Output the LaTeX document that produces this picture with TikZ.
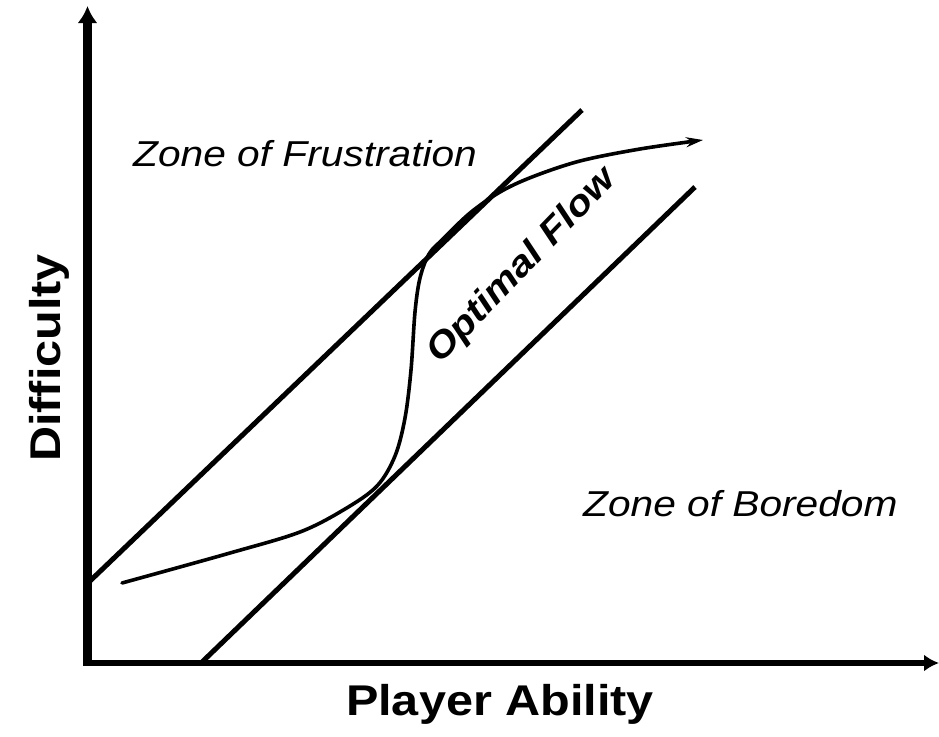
\documentclass[tikz,border=0pt]{standalone}
\usepackage{fontspec}
\setmainfont{Liberation Sans}
\usetikzlibrary{arrows.meta}
\tikzset{
  axis/.style={line width=#1, line cap=butt},
  diag/.style={line width=5pt, line cap=butt},
  flowcurve/.style={line width=3.6pt, line cap=round},
  zonelabel/.style={inner sep=0pt, font=\fontsize{36}{40}\selectfont\itshape},
  axislabel/.style={inner sep=0pt, font=\fontsize{43}{48}\selectfont\bfseries},
}
\newcommand{\widetext}[1]{\scalebox{1.13}[1]{#1}}
\begin{document}
\begin{tikzpicture}[x=1pt,y=-1pt]
\useasboundingbox (0,0) rectangle (939,736);
% axes
\coordinate (origin) at (87.5,663);
\coordinate (ytop) at (87.5,6);
\coordinate (xend) at (939,663);
\draw[axis=8.5pt, -{Latex[length=17pt,width=20pt]}] (87.5,666) -- (ytop);
\draw[axis=6pt, -{Latex[length=15pt,width=17pt]}] (83,663) -- (xend);
% diagonal bounds
\coordinate (u1) at (90,581);
\coordinate (u2) at (582,110);
\coordinate (l1) at (201,663);
\coordinate (l2) at (695,187);
\draw[diag] (u1) -- (u2);
\draw[diag] (l1) -- (l2);
% flow curve
\draw[flowcurve, -{Stealth[length=17pt,width=10pt]}] plot[smooth, tension=0.55] coordinates {
 (122,583) (230,553) (300,532) (345,509) (377,486) (395,456) (405,418)
 (411,370) (415,312) (420,278) (429,254) (443,239) (470,213) (500,192)
 (532,177) (580,161) (640,149) (703,140)};
% labels
\node[zonelabel, anchor=base west] (frust) at (133,166) {\widetext{Zone of Frustration}};
\node[zonelabel, anchor=base west] (bored) at (583,516) {\widetext{Zone of Boredom}};
\node[axislabel, anchor=base] (xlab) at (500,715) {\widetext{Player Ability}};
\node[axislabel, anchor=base, rotate=90] (ylab) at (60,358) {\widetext{Difficulty}};
\node[inner sep=0pt, anchor=base, rotate=46, font=\fontsize{36}{40}\selectfont\bfseries\itshape] (flow) at (529,273) {\widetext{Optimal Flow}};
\end{tikzpicture}
\end{document}
